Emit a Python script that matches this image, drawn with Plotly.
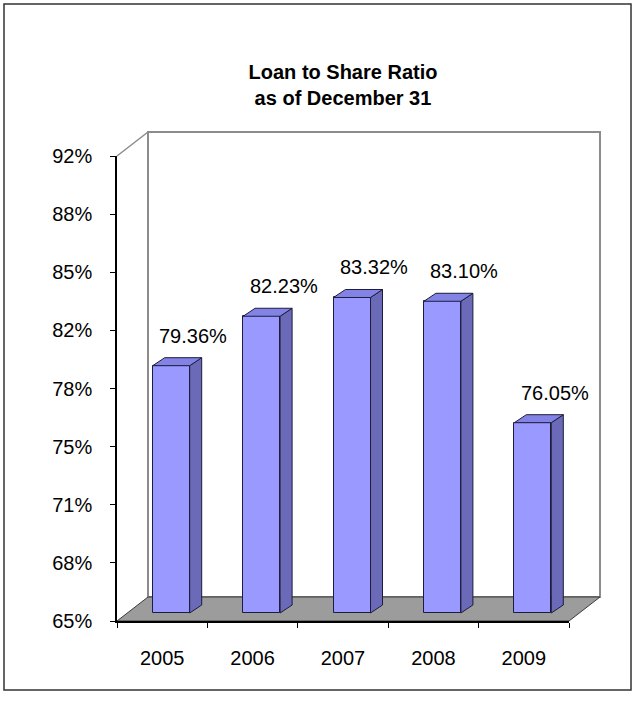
import numpy as np
import plotly.graph_objects as go

# ---- data ----------------------------------------------------------------
years = ["2005", "2006", "2007", "2008", "2009"]
ratios = [79.36, 82.23, 83.32, 83.10, 76.05]          # loan-to-share ratio, %
y_tick_labels = ["65%", "68%", "71%", "75%", "78%", "82%", "85%", "88%", "92%"]

# ---- layout constants ----------------------------------------------------
W, H = 636, 702
ML, MR, MT, MB = 117, 67, 156, 81
PW, PH = W - ML - MR, H - MT - MB
Y_MIN, Y_MAX = 65, 92
X_MIN, X_MAX = -0.5, len(years) - 0.5
PX_X = PW / (X_MAX - X_MIN)          # pixels per category
PX_Y = PH / (Y_MAX - Y_MIN)          # pixels per percentage point

# oblique depth of the chart box (walls / floor)
WALL_DX, WALL_DY = 31 / PX_X, 24 / PX_Y
# the columns sit a little behind the front plane and have their own depth
FRONT_DX, FRONT_DY = 9 / PX_X, 8 / PX_Y
BAR_DX, BAR_DY = 12 / PX_X, 8 / PX_Y
BAR_W = 37 / PX_X

FRONT_COLOR = "#9999ff"
SIDE_COLOR = "#6a6ab8"
TOP_COLOR = "#8383e6"
EDGE_COLOR = "#1c1c3c"
FONT = "Liberation Sans, Arial, sans-serif"


def to_paper(x, y):
    return (x - X_MIN) / (X_MAX - X_MIN), (y - Y_MIN) / (Y_MAX - Y_MIN)


def px_to_paper(px, py):
    return (px - ML) / PW, (H - MB - py) / PH


def path(points):
    pts = [to_paper(x, y) for x, y in points]
    return "M " + " L ".join(f"{a:.5f},{b:.5f}" for a, b in pts) + " Z"


fig = go.Figure()

# front faces of the columns
xs = [i + FRONT_DX for i in range(len(years))]
fig.add_trace(go.Bar(
    x=xs,
    y=[v - Y_MIN for v in ratios],
    base=Y_MIN + FRONT_DY,
    width=BAR_W,
    marker=dict(color=FRONT_COLOR, line=dict(color=EDGE_COLOR, width=1)),
    hoverinfo="skip",
    showlegend=False,
))

# side and top faces of the columns
side_x, side_y, top_x, top_y = [], [], [], []
for xc, v in zip(xs, ratios):
    xl, xr = xc - BAR_W / 2, xc + BAR_W / 2
    y0, y1 = Y_MIN + FRONT_DY, v + FRONT_DY
    side_x += [xr, xr + BAR_DX, xr + BAR_DX, xr, xr, None]
    side_y += [y0, y0 + BAR_DY, y1 + BAR_DY, y1, y0, None]
    top_x += [xl, xr, xr + BAR_DX, xl + BAR_DX, xl, None]
    top_y += [y1, y1, y1 + BAR_DY, y1 + BAR_DY, y1, None]

for fx_, fy_, col in [(side_x, side_y, SIDE_COLOR), (top_x, top_y, TOP_COLOR)]:
    fig.add_trace(go.Scatter(
        x=fx_, y=fy_, mode="lines", fill="toself", fillcolor=col,
        line=dict(color=EDGE_COLOR, width=1), hoverinfo="skip",
        showlegend=False, cliponaxis=False,
    ))

# value labels above the columns
LAB_DX, LAB_DY = 22 / PX_X, 30 / PX_Y
annotations = [
    dict(x=xc + LAB_DX, y=v + FRONT_DY + LAB_DY, xref="x", yref="y",
         text=f"{v:.2f}%", showarrow=False, xanchor="center", yanchor="middle",
         font=dict(family=FONT, size=20, color="black"))
    for xc, v in zip(xs, ratios)
]

# chart box: back wall, floor, side edges
shapes = []
shapes.append(dict(
    type="path", xref="paper", yref="paper", layer="below",
    path=path([(X_MIN + WALL_DX, Y_MIN + WALL_DY), (X_MAX + WALL_DX, Y_MIN + WALL_DY),
               (X_MAX + WALL_DX, Y_MAX + WALL_DY), (X_MIN + WALL_DX, Y_MAX + WALL_DY)]),
    fillcolor="white", line=dict(color="#8c8c8c", width=2),
))
shapes.append(dict(
    type="path", xref="paper", yref="paper", layer="below",
    path=path([(X_MIN, Y_MIN), (X_MAX, Y_MIN), (X_MAX + WALL_DX, Y_MIN + WALL_DY),
               (X_MIN + WALL_DX, Y_MIN + WALL_DY)]),
    fillcolor="#9c9c9c", line=dict(color="#3a3a3a", width=1),
))
x0p, y0p = to_paper(X_MIN, Y_MAX)
x1p, y1p = to_paper(X_MIN + WALL_DX, Y_MAX + WALL_DY)
shapes.append(dict(type="line", xref="paper", yref="paper", x0=x0p, y0=y0p,
                   x1=x1p, y1=y1p, line=dict(color="#8c8c8c", width=1.5)))

# outer frame
bx0, by0 = px_to_paper(4, 690)
bx1, by1 = px_to_paper(631, 4)
shapes.append(dict(type="rect", xref="paper", yref="paper", x0=bx0, y0=by0,
                   x1=bx1, y1=by1, line=dict(color="#333333", width=1.5)))

fig.update_layout(
    width=W, height=H,
    margin=dict(l=ML, r=MR, t=MT, b=MB),
    paper_bgcolor="white", plot_bgcolor="rgba(0,0,0,0)",
    showlegend=False,
    title=dict(
        text="<b>Loan to Share Ratio<br>as of December 31</b>",
        x=px_to_paper(343, 0)[0], xref="paper", xanchor="center",
        y=1 - 79 / H, yref="container", yanchor="middle",
        font=dict(family=FONT, size=20, color="black"),
    ),
    xaxis=dict(
        range=[X_MIN, X_MAX], showgrid=False, zeroline=False,
        showline=True, linecolor="black", linewidth=2,
        tickmode="array", tickvals=list(range(len(years))), ticktext=years,
        ticks="", tickfont=dict(family=FONT, size=20, color="black"),
        ticklabelstandoff=18,
        minor=dict(tickmode="array",
                   tickvals=[X_MIN + k for k in range(len(years) + 1)],
                   ticks="outside", ticklen=5, tickwidth=1, tickcolor="black",
                   showgrid=False),
        fixedrange=True,
    ),
    yaxis=dict(
        range=[Y_MIN, Y_MAX], showgrid=False, zeroline=False,
        showline=True, linecolor="black", linewidth=1.5,
        tickmode="array", tickvals=list(np.linspace(Y_MIN, Y_MAX, len(y_tick_labels))),
        ticktext=y_tick_labels, ticks="outside", ticklen=5, tickcolor="black",
        tickfont=dict(family=FONT, size=20, color="black"),
        ticklabelstandoff=14, fixedrange=True,
    ),
    annotations=annotations,
    shapes=shapes,
    bargap=0,
)

fig.write_html("out.html", config={"displayModeBar": False})
